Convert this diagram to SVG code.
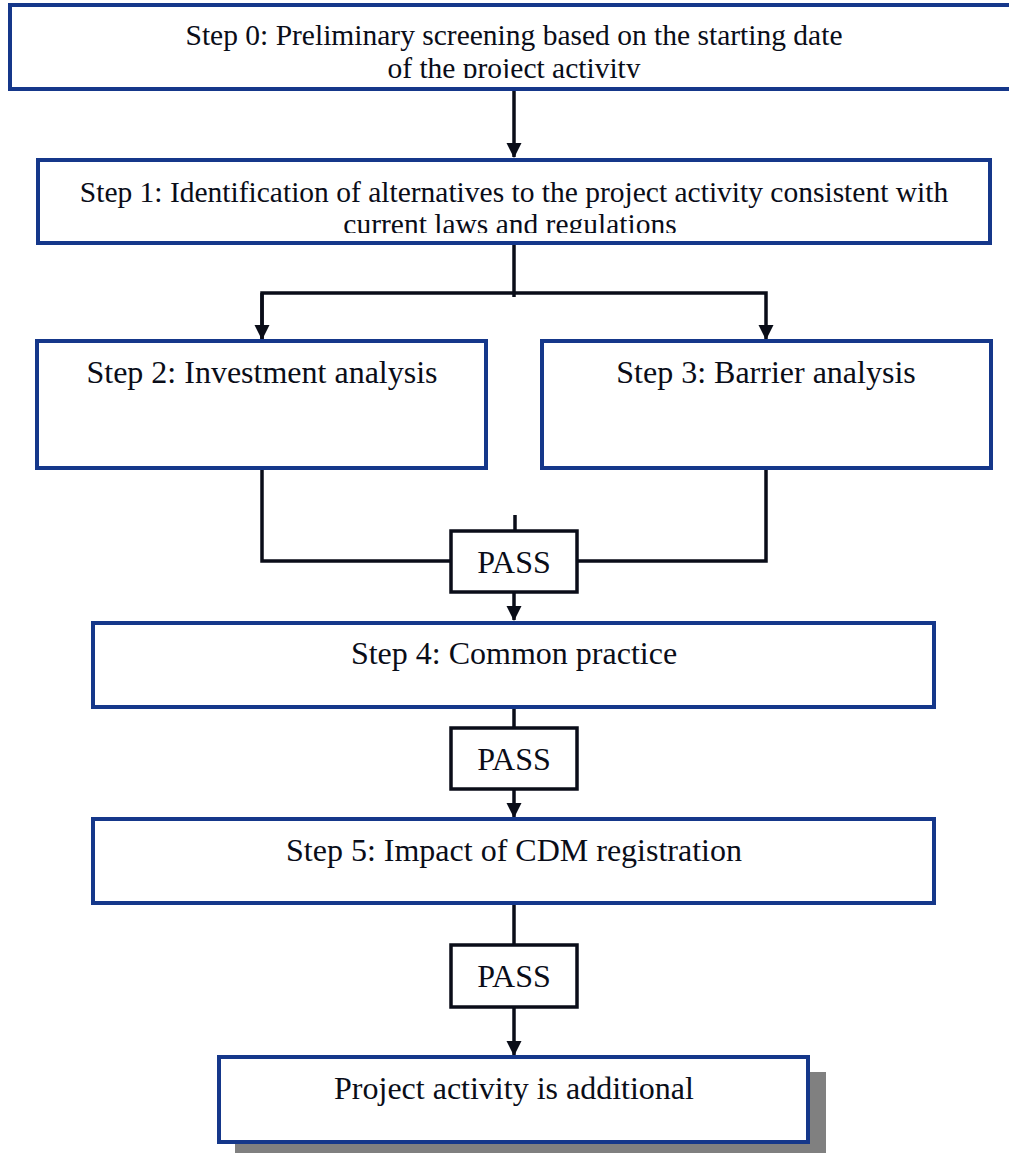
<svg xmlns="http://www.w3.org/2000/svg" width="1009" height="1153" viewBox="0 0 1009 1153">
<style>
.box{fill:#fff;stroke:#15378a;stroke-width:4}
.pass{fill:#fff;stroke:#0a0d18;stroke-width:3.5}
.t{font-family:"Liberation Serif","Times New Roman",serif;fill:#0a0d18;text-anchor:middle}
.conn{fill:none;stroke:#0a0d18;stroke-width:3.5}
</style>
<defs>
<marker id="ah" markerUnits="userSpaceOnUse" markerWidth="16" markerHeight="16" refX="14" refY="7.5" orient="auto">
<path d="M0,0 L15,7.5 L0,15 Z" fill="#0a0d18"/>
</marker>
<clipPath id="c0"><rect x="0" y="0" width="1009" height="78"/></clipPath>
<clipPath id="c1"><rect x="0" y="150" width="1009" height="83"/></clipPath>
</defs>
<g id="connectors">
<path class="conn" d="M514,89 V157" marker-end="url(#ah)"/>
<path class="conn" d="M514,243 V297"/>
<path class="conn" d="M262,339 V293 H766 V339" marker-end="url(#ah)"/>
<path class="conn" d="M262,293 V339" marker-end="url(#ah)"/>
<path class="conn" d="M262,468 V561 H451"/>
<path class="conn" d="M766,468 V561 H577"/>
<path class="conn" d="M515,515 V531"/>
<path class="conn" d="M514,592 V620" marker-end="url(#ah)"/>
<path class="conn" d="M514,707 V728"/>
<path class="conn" d="M514,789 V817" marker-end="url(#ah)"/>
<path class="conn" d="M514,903 V945"/>
<path class="conn" d="M514,1007 V1055" marker-end="url(#ah)"/>
</g>
<g id="step0">
<rect class="box" x="10" y="5" width="1010" height="84"/>
<text class="t" font-size="29.5" x="514" y="45">Step 0: Preliminary screening based on the starting date</text>
<text class="t" font-size="29.5" x="514" y="78" clip-path="url(#c0)">of the project activity</text>
</g>
<g id="step1">
<rect class="box" x="38" y="160" width="952" height="83"/>
<text class="t" font-size="29.5" x="514" y="202">Step 1: Identification of alternatives to the project activity consistent with</text>
<text class="t" font-size="29.5" x="510" y="234" clip-path="url(#c1)">current laws and regulations</text>
</g>
<g id="step2">
<rect class="box" x="37" y="341" width="449" height="127"/>
<text class="t" font-size="32" x="262" y="383">Step 2: Investment analysis</text>
</g>
<g id="step3">
<rect class="box" x="542" y="341" width="449" height="127"/>
<text class="t" font-size="32" x="766" y="383">Step 3: Barrier analysis</text>
</g>
<g id="pass1">
<rect class="pass" x="451" y="531" width="126" height="61"/>
<text class="t" font-size="32" x="514" y="573">PASS</text>
</g>
<g id="step4">
<rect class="box" x="93" y="623" width="841" height="84"/>
<text class="t" font-size="32" x="514" y="664">Step 4: Common practice</text>
</g>
<g id="pass2">
<rect class="pass" x="451" y="728" width="126" height="61"/>
<text class="t" font-size="32" x="514" y="770">PASS</text>
</g>
<g id="step5">
<rect class="box" x="93" y="819" width="841" height="84"/>
<text class="t" font-size="32" x="514" y="861">Step 5: Impact of CDM registration</text>
</g>
<g id="pass3">
<rect class="pass" x="451" y="945" width="126" height="62"/>
<text class="t" font-size="32" x="514" y="987">PASS</text>
</g>
<g id="result">
<rect x="235" y="1072" width="591" height="85" fill="#808080"/>
<rect class="box" x="219" y="1057" width="589" height="85"/>
<text class="t" font-size="32" x="514" y="1099">Project activity is additional</text>
</g>
</svg>
